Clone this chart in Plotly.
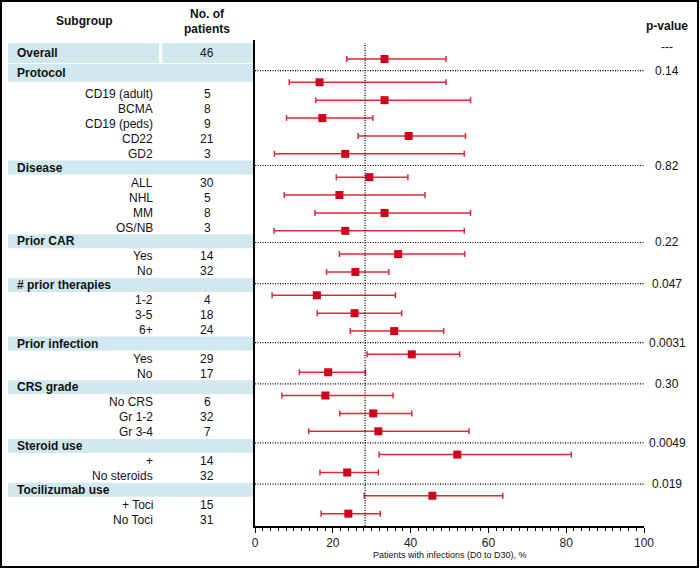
import plotly.graph_objects as go

# ---------------- data ----------------
groups = ["Overall", "Protocol", "Disease", "Prior CAR", "# prior therapies",
          "Prior infection", "CRS grade", "Steroid use", "Tocilizumab use"]
subgroups = [[""],
             ["CD19 (adult)", "BCMA", "CD19 (peds)", "CD22", "GD2"],
             ["ALL", "NHL", "MM", "OS/NB"],
             ["Yes", "No"],
             ["1-2", "3-5", "6+"],
             ["Yes", "No"],
             ["No CRS", "Gr 1-2", "Gr 3-4"],
             ["+", "No steroids"],
             ["+ Toci", "No Toci"]]
n_patients = [[46], [5, 8, 9, 21, 3], [30, 5, 8, 3], [14, 32], [4, 18, 24],
              [29, 17], [6, 32, 7], [14, 32], [15, 31]]
estimate = [[33.3], [16.6, 33.3, 17.3, 39.5, 23.2], [29.4, 21.7, 33.3, 23.2],
            [36.8, 25.8], [15.9, 25.6, 35.8], [40.3, 18.8], [18.1, 30.4, 31.7],
            [52.0, 23.7], [45.6, 24.0]]
ci_low = [[23.6], [8.8, 15.6, 8.1, 26.5, 5.0], [20.9, 7.5, 15.4, 4.9],
          [21.7, 18.4], [4.4, 16.0, 24.5], [28.8, 11.4], [6.9, 21.8, 13.8],
          [31.9, 16.7], [28.1, 17.0]]
ci_high = [[49.1], [49.1, 55.4, 30.3, 54.1, 53.8], [39.3, 43.7, 55.4, 53.8],
           [53.9, 34.4], [36.1, 37.7, 48.5], [52.6, 28.4], [35.5, 40.3, 55.0],
           [81.3, 31.7], [63.7, 32.2]]
p_values = ["---", "0.14", "0.82", "0.22", "0.047", "0.0031", "0.30", "0.0049", "0.019"]
reference_pct = 28.3
x_ticks = [0, 20, 40, 60, 80, 100]
x_title = "Patients with infections (D0 to D30), %"

# ---------------- layout geometry (pixels) ----------------
FW, FH = 700, 569
L, R, T, B = 255, 644, 40, 526
W, H = R - L, B - T
GAP = 1.3            # plot-row units between groups
PX_PER_UNIT = 17.9
OVERALL_PY = 59

FONT = "Liberation Sans, Arial, sans-serif"
RED_M = "#d0021b"
RED_L = "#dd2a36"
BAND = "#d1e8ef"
DOT = "1px,1.5px"


def xp(px):
    return (px - L) / W


def yp(py):
    return 1 - (py - T) / H


# plot row positions
ys, xs, lo_err, hi_err, sep_y = [], [], [], [], []
pos = 0.0
for gi, ests in enumerate(estimate):
    if gi > 0:
        sep_y.append(pos + GAP / 2)
        pos += GAP
    else:
        sep_y.append(pos - GAP / 2)
    for k, e in enumerate(ests):
        if k > 0:
            pos += 1
        ys.append(pos)
        xs.append(e)
        lo_err.append(e - ci_low[gi][k])
        hi_err.append(ci_high[gi][k] - e)

y_top = -(OVERALL_PY - T) / PX_PER_UNIT
y_bot = (B - OVERALL_PY) / PX_PER_UNIT

fig = go.Figure()
fig.add_trace(go.Scatter(
    x=xs, y=ys, mode="markers",
    marker=dict(symbol="square", size=8, color=RED_M),
    error_x=dict(type="data", symmetric=False, array=hi_err, arrayminus=lo_err,
                 color=RED_L, thickness=1.5, width=3),
    showlegend=False, hoverinfo="skip"))

shapes = []
annotations = []

# separators + p-values
for gi, sy in enumerate(sep_y):
    if gi > 0:
        shapes.append(dict(type="line", xref="x", yref="y", x0=0, x1=100, y0=sy, y1=sy,
                           line=dict(color="black", width=1.2, dash=DOT)))
    annotations.append(dict(xref="paper", yref="y", x=xp(667), y=sy, text=p_values[gi],
                            showarrow=False, xanchor="center", yanchor="middle",
                            font=dict(family=FONT, size=12, color="#111")))

# reference line
shapes.append(dict(type="line", xref="x", yref="paper", x0=reference_pct, x1=reference_pct,
                   y0=0, y1=yp(43), line=dict(color="black", width=1.3, dash=DOT)))

# ---------------- table ----------------
BX0, BX1 = 8, 253


def band(y0, y1, x0=BX0, x1=BX1):
    shapes.append(dict(type="rect", xref="paper", yref="paper", layer="below",
                       x0=xp(x0), x1=xp(x1), y0=yp(y1), y1=yp(y0),
                       fillcolor=BAND, line=dict(width=0)))


def text(px, py, s, anchor="left", bold=False, size=12):
    annotations.append(dict(xref="paper", yref="paper", x=xp(px), y=yp(py),
                            text=f"<b>{s}</b>" if bold else s, showarrow=False,
                            xanchor=anchor, yanchor="middle",
                            font=dict(family=FONT, size=size, color="#111")))


text(84, 21, "Subgroup", "center", True)
text(207, 14, "No. of", "center", True)
text(207, 29, "patients", "center", True)
annotations.append(dict(xref="paper", yref="paper", x=xp(667), y=yp(26), text="<b>p-value</b>",
                        showarrow=False, xanchor="center", yanchor="middle",
                        font=dict(family=FONT, size=12, color="#111")))

ty = 53
for gi, g in enumerate(groups):
    if gi == 0:
        band(43, 63, BX0, 159)
        band(43, 63, 162, BX1)
        text(15, ty, g, "left", True)
        text(207, ty, str(n_patients[0][0]), "center")
        ty += 20
        continue
    if gi == 1:
        band(ty - 9, ty + 9)
    else:
        band(ty - 7, ty + 7)
    text(15, ty, g, "left", True)
    ty += 21 if gi == 1 else 15.2
    for k, s in enumerate(subgroups[gi]):
        if k > 0:
            ty += 15
        text(155, ty, s, "right")
        text(207, ty, str(n_patients[gi][k]), "center")
    ty += 13.5

# axis title
annotations.append(dict(xref="paper", yref="paper", x=xp(449.5), y=yp(555), text=x_title,
                        showarrow=False, xanchor="center", yanchor="middle",
                        font=dict(family="Liberation Sans Narrow, Arial Narrow, " + FONT,
                                  size=9, color="#111")))

# outer border
shapes.append(dict(type="rect", xref="paper", yref="paper",
                   x0=xp(1), x1=xp(698), y0=yp(567), y1=yp(1),
                   line=dict(color="black", width=2), fillcolor="rgba(0,0,0,0)"))

fig.update_layout(
    width=FW, height=FH,
    margin=dict(l=L, r=FW - R, t=T, b=FH - B),
    paper_bgcolor="white", plot_bgcolor="white",
    shapes=shapes, annotations=annotations,
    xaxis=dict(range=[0, 100], tickvals=x_ticks, ticks="outside", ticklen=5,
               tickwidth=1.2, tickcolor="black", showline=True, linecolor="black",
               linewidth=1.5, showgrid=False, zeroline=False,
               tickfont=dict(family=FONT, size=12, color="#222"),
               minor=dict(dtick=2, ticks="outside", ticklen=3, tickcolor="black",
                          tickwidth=1, showgrid=False)),
    yaxis=dict(range=[y_bot, y_top], showline=True, linecolor="black", linewidth=2,
               showticklabels=False, ticks="", showgrid=False, zeroline=False),
)

fig.write_html("out.html", config={"displayModeBar": False},
               post_script="document.body.style.margin='0';document.body.style.overflow='hidden';")
